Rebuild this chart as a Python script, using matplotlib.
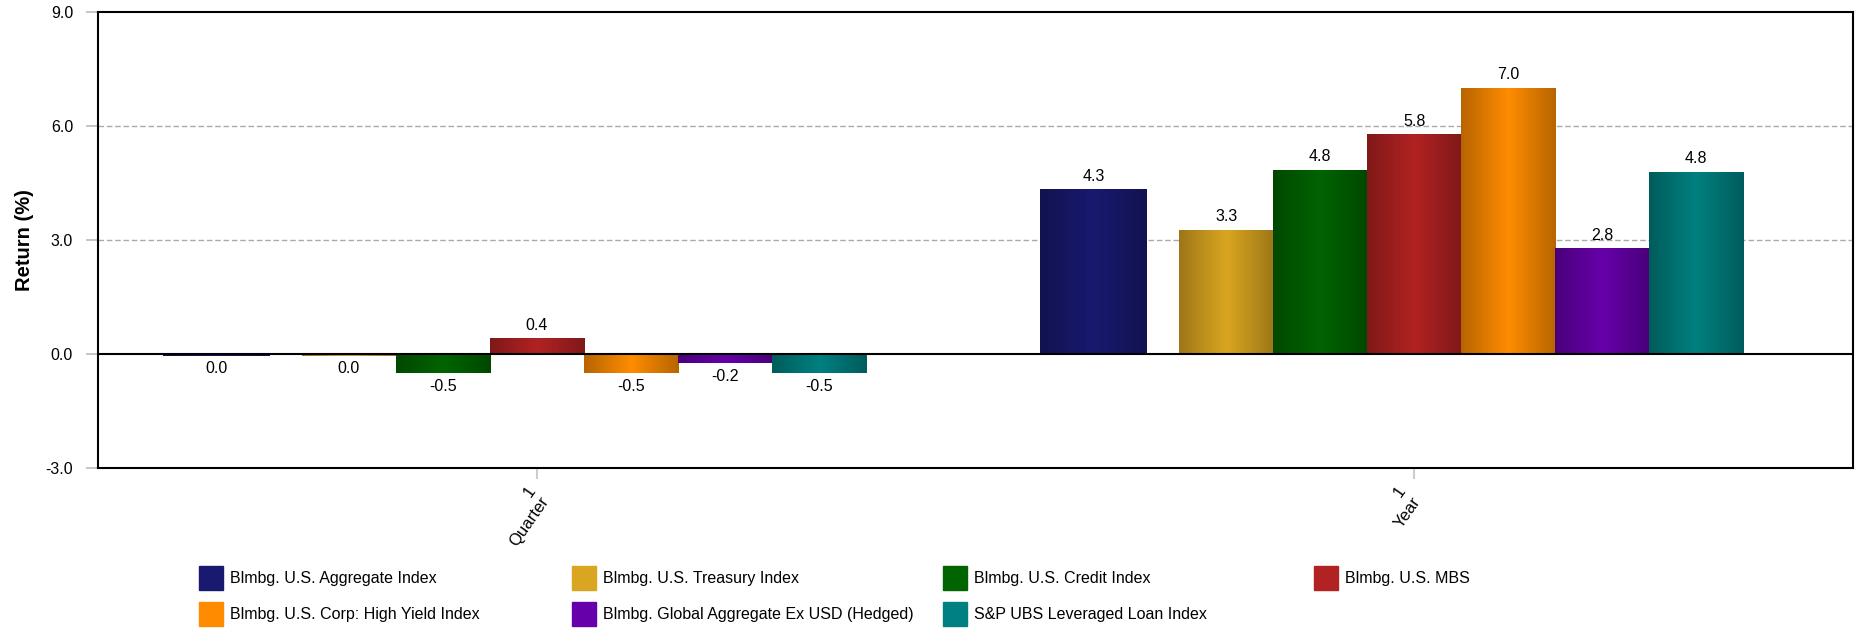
import numpy as np
import matplotlib
matplotlib.use("Agg")
import matplotlib.pyplot as plt
from matplotlib.colors import LinearSegmentedColormap, to_rgb
from matplotlib.patches import Rectangle
from matplotlib.transforms import offset_copy

plt.rcParams['font.family'] = ['Liberation Sans', 'DejaVu Sans']

# данные
periods = ["1\nQuarter", "1\nYear"]
series = [
    "Blmbg. U.S. Aggregate Index",
    "Blmbg. U.S. Treasury Index",
    "Blmbg. U.S. Credit Index",
    "Blmbg. U.S. MBS",
    "Blmbg. U.S. Corp: High Yield Index",
    "Blmbg. Global Aggregate Ex USD (Hedged)",
    "S&P UBS Leveraged Loan Index",
]
quarter_returns = [-0.045, -0.049, -0.5, 0.41, -0.5, -0.24, -0.5]
year_returns = [4.34, 3.27, 4.85, 5.78, 7.0, 2.78, 4.8]
yticks = [-3.0, 0.0, 3.0, 6.0, 9.0]

colors = ["#191970", "#DAA520", "#006400", "#B22222", "#FF8C00", "#6600AA", "#008080"]

# раскладка столбцов внутри группы
slot = 0.75 / 7
offsets = [-0.375 + slot * (i + 0.5) for i in range(7)]
widths = [slot] * 7
offsets[0] = -0.3655   # первый ряд у оригинала шире и сдвинут
widths[0] = 0.121


def shade(c, f):
    r, g, b = to_rgb(c)
    return (r * f, g * f, b * f)


fig = plt.figure(figsize=(18.6, 6.3), dpi=100)
ax = fig.add_axes([98 / 1860, 1 - 468 / 630, 1755 / 1860, 456 / 630])

x = np.arange(len(periods))
grad = np.linspace(0, 1, 256).reshape(1, -1)
data = np.array([quarter_returns, year_returns]).T

for i, name in enumerate(series):
    cmap = LinearSegmentedColormap.from_list(
        f"g{i}", [shade(colors[i], 0.72), colors[i], shade(colors[i], 0.72)])
    bars = ax.bar(x + offsets[i], data[i], widths[i], color=colors[i], zorder=3,
                  linewidth=0)
    for b, v in zip(bars, data[i]):
        x0, y0 = b.get_x(), b.get_y()
        im = ax.imshow(grad, extent=(x0, x0 + b.get_width(), y0, y0 + b.get_height()),
                       aspect="auto", cmap=cmap, zorder=3, interpolation="bilinear")
        im.set_clip_path(b)
        lbl = f"{v:.1f}"
        if lbl == "-0.0":
            lbl = "0.0"
        if v >= 0:
            ax.annotate(lbl, (b.get_x() + b.get_width() / 2, v), xytext=(0, 4),
                        textcoords="offset points", ha="center", va="bottom", fontsize=11.5)
        else:
            ax.annotate(lbl, (b.get_x() + b.get_width() / 2, v), xytext=(0, -4),
                        textcoords="offset points", ha="center", va="top", fontsize=11.5)

ax.set_xlim(-0.5, 1.5)
ax.set_ylim(-3, 9)
ax.set_yticks(yticks)
ax.set_yticklabels([f"{t:.1f}" for t in yticks], fontsize=11.5)
ax.set_xticks(x)
ax.set_xticklabels([])
# подписи по оси X рисуем сами, чтобы сдвинуть их левее риски
lbl_tr = offset_copy(ax.get_xaxis_transform(), fig=fig, x=-14, y=-16, units="dots")
for xi, p in zip(x, periods):
    ax.text(xi, 0, p, transform=lbl_tr, rotation=55, ha="center", va="top",
            fontsize=12, multialignment="right")
ax.tick_params(axis="y", length=9, color="#bbbbbb", width=1.2, pad=9)
ax.tick_params(axis="x", length=8, color="#cccccc", width=1.5)

for yv in (3, 6):
    ax.axhline(yv, color="#aaaaaa", lw=1, ls=(0, (4, 2)), zorder=1)
ax.axhline(0, color="black", lw=1.5, zorder=4)
for s in ax.spines.values():
    s.set_linewidth(1.5)

ax.set_ylabel("Return (%)", fontsize=14.5, fontweight="bold", labelpad=8)

# легенда вручную, 4 колонки
col_x = [199, 572, 943, 1314]
row_y = [578, 614]
for i, name in enumerate(series):
    r, c = divmod(i, 4)
    fig.patches.append(Rectangle(((col_x[c]) / 1860, 1 - (row_y[r] + 12) / 630),
                                 24 / 1860, 24 / 630, color=colors[i],
                                 transform=fig.transFigure))
    fig.text((col_x[c] + 31) / 1860, 1 - row_y[r] / 630, name,
             fontsize=11.5, va="center", ha="left")

fig.savefig("out.png", dpi=100)
